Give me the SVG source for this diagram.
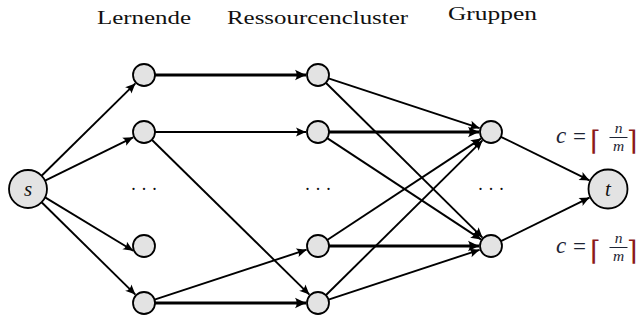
<svg xmlns="http://www.w3.org/2000/svg" width="640" height="320" viewBox="0 0 640 320">
  <style>
    .node { fill: #e3e3e3; stroke: #000; stroke-width: 1.8; }
    .edge { stroke: #000; stroke-width: 1.9; fill: none; marker-end: url(#arr); }
    .edge.heavy { stroke-width: 2.9; marker-end: url(#arrHeavy); }
    .title { font-family: "Liberation Serif", "DejaVu Serif", serif; font-size: 19px; fill: #111; }
    .var { font-family: "Liberation Serif", "DejaVu Serif", serif; font-style: italic; fill: #111; }
    .dots { font-family: "Liberation Serif", serif; font-size: 18px; fill: #111; text-anchor: middle; }
    .math { font-family: "Liberation Serif", "DejaVu Serif", serif; fill: #1c2333; }
    .frac { font-family: "Liberation Serif", "DejaVu Serif", serif; fill: #1c2333; font-size: 15.5px; font-style: italic; text-anchor: middle; }
    .ceil { font-family: "DejaVu Serif", serif; fill: #8b1a1a; font-size: 27px; }
  </style>
  <defs>
    <marker id="arr" viewBox="-11 -5 12 10" refX="0" refY="0" markerWidth="12" markerHeight="10" markerUnits="userSpaceOnUse" orient="auto">
      <path d="M0,0 L-10,-4.5 Q-6.8,0 -10,4.5 Z" fill="#000"/>
    </marker>
    <marker id="arrHeavy" viewBox="-12 -6 13 12" refX="0" refY="0" markerWidth="13" markerHeight="12" markerUnits="userSpaceOnUse" orient="auto">
      <path d="M0,0 L-11,-5.2 Q-7.5,0 -11,5.2 Z" fill="#000"/>
    </marker>
  </defs>

  <!-- column headings -->
  <text class="title" x="97" y="24" textLength="94" lengthAdjust="spacingAndGlyphs">Lernende</text>
  <text class="title" x="227" y="24" textLength="181" lengthAdjust="spacingAndGlyphs">Ressourcencluster</text>
  <text class="title" x="448" y="20" textLength="89" lengthAdjust="spacingAndGlyphs">Gruppen</text>

  <!-- connectors -->
  <g id="edges">
    <line class="edge" x1="41.6" y1="175.7" x2="135.4" y2="83.4"/>
    <line class="edge" x1="45.1" y1="180.6" x2="133.2" y2="137.3"/>
    <line class="edge" x1="45.1" y1="197.4" x2="133.2" y2="250.7"/>
    <line class="edge" x1="41.6" y1="202.3" x2="135.4" y2="294.6"/>

    <line class="edge heavy" x1="155" y1="75" x2="306" y2="75"/>
    <line class="edge" x1="155" y1="132" x2="306" y2="132"/>
    <line class="edge" x1="151.8" y1="139.7" x2="309.4" y2="294.6"/>
    <line class="edge" x1="154.5" y1="299.6" x2="306.6" y2="249.7"/>
    <line class="edge heavy" x1="155" y1="303" x2="306" y2="303"/>

    <line class="edge" x1="328.5" y1="78.4" x2="479.6" y2="128.2"/>
    <line class="edge" x1="325.8" y1="82.7" x2="482.5" y2="237.6"/>
    <line class="edge heavy" x1="329" y1="132" x2="479" y2="132"/>
    <line class="edge" x1="327.2" y1="138.1" x2="481" y2="239.4"/>
    <line class="edge" x1="327.2" y1="240" x2="481" y2="138.6"/>
    <line class="edge heavy" x1="329" y1="246" x2="479" y2="246"/>
    <line class="edge" x1="325.8" y1="295.3" x2="482.5" y2="140.4"/>
    <line class="edge" x1="328.5" y1="299.6" x2="479.6" y2="249.8"/>

    <line class="edge" x1="500.9" y1="136.8" x2="589.5" y2="180.4"/>
    <line class="edge" x1="500.9" y1="241.2" x2="589.5" y2="197.6"/>
  </g>

  <!-- source and sink -->
  <g id="s">
    <circle class="node" cx="28" cy="189" r="19"/>
    <text class="var" x="28" y="196" font-size="21" text-anchor="middle">s</text>
  </g>
  <g id="t">
    <circle class="node" cx="608" cy="189" r="19.5"/>
    <text class="var" x="608" y="196" font-size="21" text-anchor="middle">t</text>
  </g>

  <!-- learners -->
  <g id="l1"><circle class="node" cx="144" cy="75" r="11"/></g>
  <g id="l2"><circle class="node" cx="144" cy="132" r="11"/></g>
  <g id="l-dots"><text class="dots" x="144" y="195">· · ·</text></g>
  <g id="l4"><circle class="node" cx="144" cy="246" r="11"/></g>
  <g id="l5"><circle class="node" cx="144" cy="303" r="11"/></g>

  <!-- resource clusters -->
  <g id="r1"><circle class="node" cx="318" cy="75" r="11"/></g>
  <g id="r2"><circle class="node" cx="318" cy="132" r="11"/></g>
  <g id="r-dots"><text class="dots" x="318" y="195">· · ·</text></g>
  <g id="r4"><circle class="node" cx="318" cy="246" r="11"/></g>
  <g id="r5"><circle class="node" cx="318" cy="303" r="11"/></g>

  <!-- groups -->
  <g id="g1"><circle class="node" cx="491" cy="132" r="11"/></g>
  <g id="g-dots"><text class="dots" x="491" y="195">· · ·</text></g>
  <g id="g2"><circle class="node" cx="491" cy="246" r="11"/></g>

  <!-- capacity labels -->
  <g id="cap-top">
    <text class="math" x="556" y="143" font-size="23" font-style="italic">c</text>
    <text class="math" x="573" y="144" font-size="23">=</text>
    <text class="ceil" x="590" y="150">⌈</text>
    <text class="frac" x="618.5" y="133">n</text>
    <line x1="609.5" y1="137.5" x2="627.5" y2="137.5" stroke="#1c2333" stroke-width="1"/>
    <text class="frac" x="618.5" y="150.5">m</text>
    <text class="ceil" x="627" y="150">⌉</text>
  </g>
  <g id="cap-bottom">
    <text class="math" x="556" y="253" font-size="23" font-style="italic">c</text>
    <text class="math" x="573" y="254" font-size="23">=</text>
    <text class="ceil" x="590" y="260">⌈</text>
    <text class="frac" x="618.5" y="243">n</text>
    <line x1="609.5" y1="247.5" x2="627.5" y2="247.5" stroke="#1c2333" stroke-width="1"/>
    <text class="frac" x="618.5" y="260.5">m</text>
    <text class="ceil" x="627" y="260">⌉</text>
  </g>
</svg>
